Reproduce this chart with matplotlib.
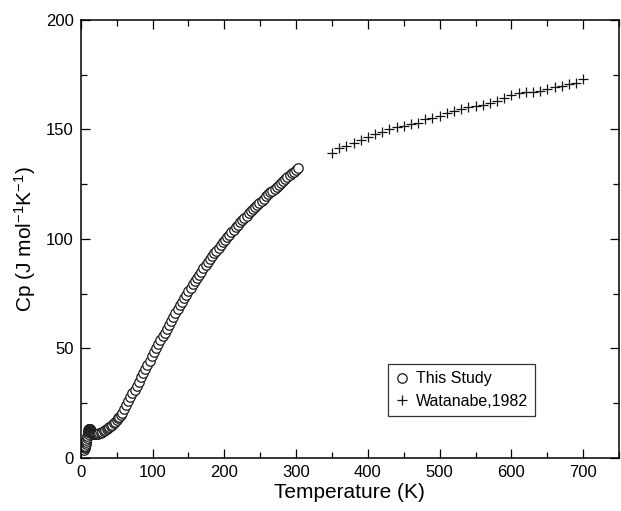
import matplotlib
matplotlib.use("Agg")
import matplotlib.pyplot as plt
from matplotlib.ticker import MultipleLocator

plt.rcParams['font.family'] = ['Liberation Sans', 'DejaVu Sans']
plt.rcParams['mathtext.fontset'] = 'custom'
plt.rcParams['mathtext.rm'] = 'Liberation Sans'
plt.rcParams['mathtext.it'] = 'Liberation Sans:italic'
plt.rcParams['mathtext.default'] = 'regular'

# This Study: temperature (K) and heat capacity (J/mol/K)
study_T = [5, 5.5, 6, 6.5, 7, 7.5, 8, 8.5, 9, 9.5, 10, 10.3, 10.6, 11, 11.3,
           11.6, 12, 12.3, 12.6, 13, 13.3, 13.6, 14, 14.5, 15, 15.5, 16, 16.5,
           17, 18, 19, 20, 21, 22, 24, 26, 28, 30, 32, 34, 36,
           38, 40, 42, 44, 46, 48, 50, 52, 54, 56, 58,
           60, 63, 66, 69, 72, 75, 78, 81, 84, 87, 90, 93, 96, 99, 102, 105,
           108, 111, 114, 117, 120, 123, 126, 129, 132, 135, 138, 141, 144, 147,
           150, 153, 156, 159, 162, 165, 168, 171, 174, 177, 180, 183, 186, 189,
           192, 195, 198, 201, 204, 207, 210, 213, 216, 219, 222, 225, 228, 231,
           234, 237, 240, 243, 246, 249, 252, 255, 258, 261, 264, 267, 270, 273,
           276, 279, 282, 285, 288, 291, 294, 297, 300, 303]
study_cp = [3.8, 4.3, 4.9, 5.6, 6.4, 7.2, 8.1, 9.0, 10.0, 11.0, 11.9, 12.3,
            12.6, 13.0, 13.2, 13.3, 13.3, 13.2, 13.0, 12.8, 12.6, 12.4, 12.2,
            12.0, 11.8, 11.6, 11.4, 11.2, 11.1, 10.9, 10.8, 10.7, 10.7, 10.8,
            11.0, 11.2, 11.5, 11.8, 12.2, 12.6, 13.0, 13.5, 14.0,
            14.6, 15.2, 15.8, 16.5, 17.2, 18.0, 18.8, 19.7, 20.6,
            22.5, 24.2, 26.0, 27.6, 29.4, 31.2, 33.0, 34.8, 36.7, 38.6, 40.6,
            42.5, 44.4, 46.4, 48.2, 50.0, 51.9, 53.7, 55.5, 57.2, 59.0, 60.8,
            62.6, 64.3, 66.0, 67.8, 69.8, 71.0, 72.8, 74.5, 76.0, 77.6, 79.2,
            80.7, 82.2, 83.6, 85.0, 86.6, 87.9, 89.3, 90.6, 92.0, 93.4, 94.6,
            95.9, 97.1, 98.4, 99.6, 100.8, 102.0, 103.1, 104.2, 105.4, 106.4,
            107.5, 108.5, 109.6, 110.6, 111.6, 112.6, 113.6, 114.6, 115.6,
            116.5, 117.5, 118.4, 119.4, 120.3, 121.2, 122.1, 123.0, 123.9,
            124.7, 125.6, 126.5, 127.3, 128.2, 129.0, 129.9, 130.7, 131.6, 132.4]

# Watanabe, 1982
wat_T = [350, 360, 370, 380, 390, 400, 410, 420, 430, 440, 450, 460, 470, 480,
         490, 500, 510, 520, 530, 540, 550, 560, 570, 580, 590, 600, 610, 620,
         630, 640, 650, 660, 670, 680, 690, 700]
wat_cp = [139.3, 141.4, 142.6, 143.7, 145.2, 146.7, 147.9, 149.0, 150.2, 151.0,
          151.6, 152.4, 152.8, 154.7, 155.1, 156.2, 157.7, 158.6, 159.5, 160.4,
          160.7, 161.0, 162.2, 163.2, 164.2, 165.6, 166.8, 167.1, 167.3, 167.7,
          168.3, 169.2, 169.9, 170.6, 171.4, 172.9]

fig = plt.figure(figsize=(6.21, 5.11), dpi=100)
ax = fig.add_axes([0.130, 0.104, 0.867, 0.857])

ax.plot(study_T, study_cp, linestyle='none', marker='o', markersize=6.8,
        markerfacecolor='white', markeredgecolor='#1a1a1a',
        markeredgewidth=0.9, label='This Study')
ax.plot(wat_T, wat_cp, linestyle='none', marker='+', markersize=6.5,
        color='#111111', markeredgewidth=0.9, label='Watanabe,1982')

ax.set_xlim(0, 750)
ax.set_ylim(0, 200)
ax.xaxis.set_major_locator(MultipleLocator(100))
ax.xaxis.set_minor_locator(MultipleLocator(50))
ax.yaxis.set_major_locator(MultipleLocator(50))
ax.yaxis.set_minor_locator(MultipleLocator(25))
ax.tick_params(which='both', direction='in', top=True, right=True,
               labelsize=12, width=0.9, pad=5)
ax.tick_params(which='major', length=6.5)
ax.tick_params(which='minor', length=4)
for s in ax.spines.values():
    s.set_linewidth(1.1)

ax.set_xlabel('Temperature (K)', fontsize=15, labelpad=2)
ax.set_ylabel('Cp (J mol$^{-1}$K$^{-1}$)', fontsize=15, labelpad=6)

leg = ax.legend(loc='lower left', bbox_to_anchor=(0.571, 0.096), fontsize=11.5,
                frameon=True, fancybox=False, edgecolor='black',
                borderpad=0.45, handletextpad=0.5, handlelength=0.8,
                labelspacing=0.45, borderaxespad=0)
leg.get_frame().set_linewidth(0.9)

fig.savefig('out.png', dpi=100)
